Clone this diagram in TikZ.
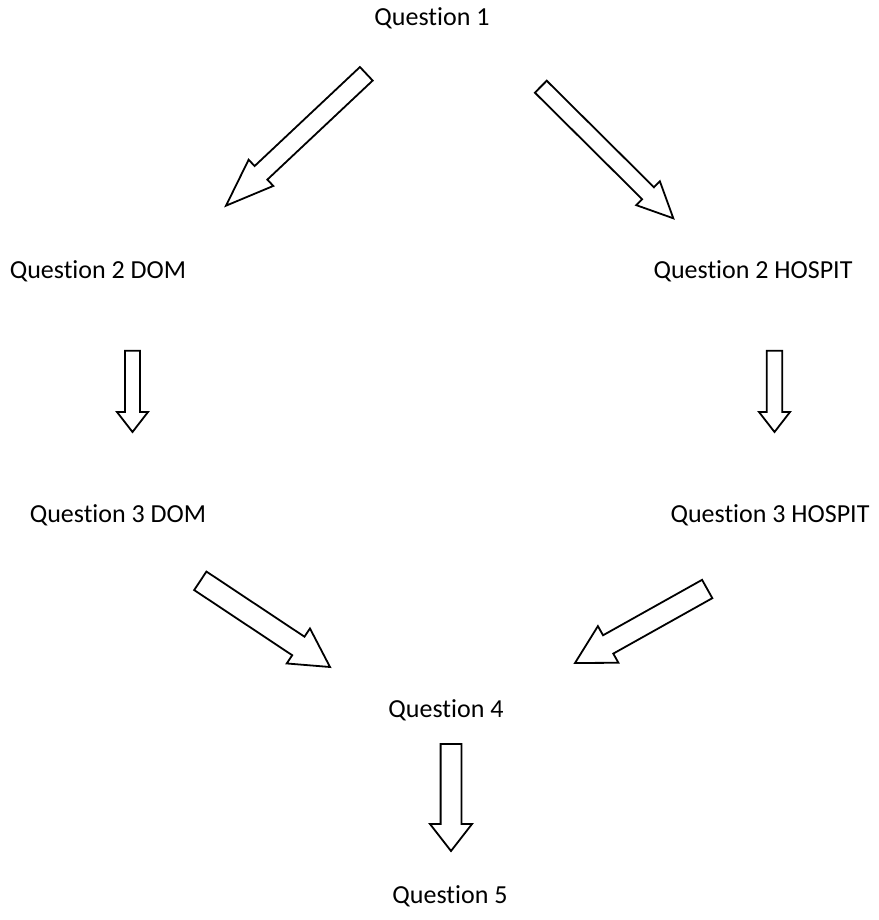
\documentclass[tikz,border=0pt]{standalone}
\usepackage{fontspec}
\setmainfont{Carlito}[Ligatures={NoCommon,NoContextual}]
\usetikzlibrary{calc}
\tikzset{
  lbl/.style={anchor=base, inner sep=0pt, font=\fontsize{26}{30}\selectfont},
  blockarrow/.style={draw=black, fill=white, line width=1.8pt, line join=miter},
}
% #1 from, #2 to, #3 half shaft width, #4 half head width, #5 head length
\newcommand\blockarr[5]{%
  \coordinate (#1#2base) at ($(#2)!#5!(#1)$);
  \draw[blockarrow] ($(#1)!#3!90:(#2)$) -- ($(#1#2base)!#3!90:(#2)$)
    -- ($(#1#2base)!#4!90:(#2)$) -- (#2) -- ($(#1#2base)!#4!-90:(#2)$)
    -- ($(#1#2base)!#3!-90:(#2)$) -- ($(#1)!#3!-90:(#2)$) -- cycle;
}
\begin{document}
\begin{tikzpicture}[x=1pt,y=-1pt]
\useasboundingbox (0,0) rectangle (878,920);
\node[lbl] (q1)  at (432,26)  {Question 1};
\node[lbl] (q2d) at (98,278)  {Question 2 DOM};
\node[lbl] (q2h) at (753,278) {Question 2 HOSPIT};
\node[lbl] (q3d) at (118,522) {Question 3 DOM};
\node[lbl] (q3h) at (770,522) {Question 3 HOSPIT};
\node[lbl] (q4)  at (446,717) {Question 4};
\node[lbl] (q5)  at (450,903) {Question 5};

\coordinate (a1s) at (366.3,73.8);  \coordinate (a1e) at (226,205.7);
\coordinate (a2s) at (540.8,86.7);  \coordinate (a2e) at (673.3,218.3);
\coordinate (a3s) at (132.5,350.7); \coordinate (a3e) at (132.5,432);
\coordinate (a4s) at (774.5,350.7); \coordinate (a4e) at (774.5,432);
\coordinate (a5s) at (200.3,580.8); \coordinate (a5e) at (330,667);
\coordinate (a6s) at (707.2,589);   \coordinate (a6e) at (575,663);
\coordinate (a7s) at (451,744);     \coordinate (a7e) at (451,851);

\blockarr{a1s}{a1e}{9.3pt}{18pt}{48pt}
\blockarr{a2s}{a2e}{8.4pt}{16.8pt}{35.6pt}
\blockarr{a3s}{a3e}{7.5pt}{15.5pt}{20pt}
\blockarr{a4s}{a4e}{7.8pt}{15.5pt}{20pt}
\blockarr{a5s}{a5e}{11.1pt}{21pt}{38pt}
\blockarr{a6s}{a6e}{10.5pt}{21pt}{38pt}
\blockarr{a7s}{a7e}{10.4pt}{21pt}{27pt}
\end{tikzpicture}
\end{document}
